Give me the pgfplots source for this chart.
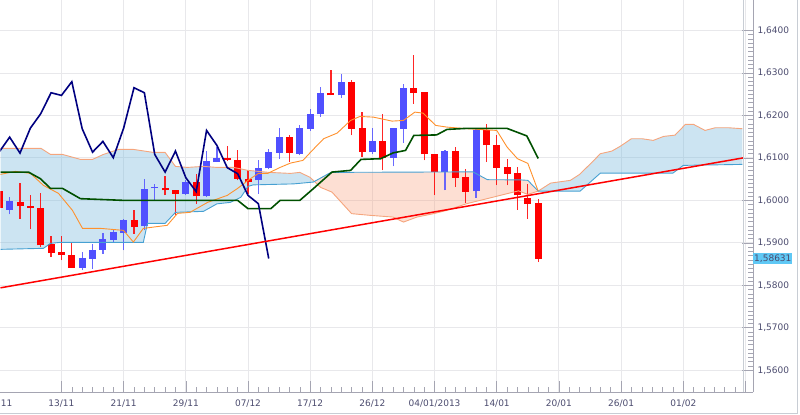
\documentclass[border=0pt]{standalone}
\usepackage{pgfplots}
\pgfplotsset{compat=1.18}
\usepackage{pgfplotstable}
\usepgfplotslibrary{fillbetween}
\usepackage{fontspec}
\setmainfont{DejaVu Sans}

\definecolor{gridc}{RGB}{232,232,235}
\definecolor{tickc}{RGB}{165,165,178}
\definecolor{labelc}{RGB}{75,75,110}
\definecolor{bullc}{RGB}{80,80,255}
\definecolor{bearc}{RGB}{255,0,0}
\definecolor{cloudb}{RGB}{120,185,220}
\definecolor{clouds}{RGB}{250,150,110}
\definecolor{spanAc}{RGB}{245,165,125}
\definecolor{spanBc}{RGB}{70,160,210}
\definecolor{tenkanc}{RGB}{255,145,45}
\definecolor{kijunc}{RGB}{0,80,0}
\definecolor{chikouc}{RGB}{0,0,128}
\definecolor{hlc}{RGB}{95,200,245}
\definecolor{framec}{RGB}{200,205,212}

% bullish candles: index open high low close
\pgfplotstableread{
i O H L C
-5 1.59781 1.60071 1.59671 1.59984
2 1.58416 1.58784 1.58353 1.58652
3 1.58628 1.58981 1.58393 1.58840
4 1.58840 1.59231 1.58746 1.59089
5 1.59075 1.59334 1.59019 1.59254
6 1.59231 1.59569 1.58824 1.59529
8 1.59388 1.60511 1.59294 1.60275
9 1.60282 1.60393 1.60016 1.60306
12 1.60158 1.60471 1.60118 1.60431
14 1.60094 1.61160 1.60078 1.60918
15 1.60901 1.61254 1.60901 1.61005
19 1.60471 1.60958 1.60158 1.60765
20 1.60753 1.61216 1.60729 1.61141
21 1.61113 1.61711 1.60981 1.61489
23 1.61099 1.61765 1.61059 1.61701
24 1.61687 1.62158 1.61631 1.62040
25 1.62024 1.62666 1.61960 1.62534
27 1.62471 1.62965 1.62416 1.62793
30 1.61136 1.61711 1.61099 1.61388
32 1.61005 1.61711 1.60800 1.61701
33 1.61687 1.62746 1.61348 1.62652
37 1.60666 1.61193 1.60235 1.61160
40 1.60212 1.61687 1.60064 1.61647
}\bull

% bearish candles: index open high low close
\pgfplotstableread{
i O H L C
-6 1.60219 1.60329 1.59718 1.59812
-4 1.59969 1.60407 1.59569 1.59859
-3 1.59871 1.60118 1.59318 1.59824
-2 1.59828 1.60181 1.58901 1.58941
-1 1.58965 1.59153 1.58666 1.58760
0 1.58776 1.59153 1.58588 1.58713
1 1.58713 1.58995 1.58416 1.58416
7 1.59529 1.59765 1.59216 1.59372
10 1.60299 1.60565 1.60118 1.60235
11 1.60235 1.60235 1.59647 1.60158
13 1.60431 1.60628 1.59922 1.60094
16 1.61005 1.61271 1.60925 1.60941
17 1.60958 1.61176 1.60471 1.60511
18 1.60511 1.60706 1.60141 1.60424
22 1.61499 1.61529 1.60901 1.61113
26 1.62534 1.63059 1.62471 1.62471
28 1.62793 1.62824 1.61529 1.61687
29 1.61711 1.62078 1.61019 1.61136
31 1.61388 1.62024 1.60706 1.61005
34 1.62642 1.63412 1.62275 1.62534
35 1.62548 1.62548 1.60941 1.61082
36 1.61099 1.61099 1.60118 1.60666
38 1.61160 1.61254 1.60313 1.60534
39 1.60548 1.60746 1.59941 1.60205
41 1.61647 1.61788 1.60901 1.61294
42 1.61311 1.61529 1.60353 1.60769
43 1.60784 1.60981 1.60353 1.60628
44 1.60642 1.60784 1.59781 1.60118
45 1.60064 1.60393 1.59569 1.59922
46 1.59936 1.60040 1.58548 1.58631
}\bear

% Senkou span A
\pgfplotstableread{
i v
-5.88 1.61224
-1.97 1.61224
-1.06 1.61082
0.1 1.61082
1.83 1.60965
3.0 1.60965
4.05 1.61082
5.5 1.61200
6.94 1.61200
8.87 1.61129
10.0 1.61129
11.0 1.60800
12.15 1.60776
13.7 1.60800
15.0 1.60776
16.6 1.60776
18.0 1.60706
20.0 1.60659
22.1 1.60635
23.0 1.60659
24.0 1.60541
25.0 1.60306
26.1 1.60195
28.0 1.59687
29.8 1.59647
32.0 1.59607
33.0 1.59489
34.3 1.59607
35.9 1.59687
37.2 1.59765
39.1 1.59922
41.7 1.60078
43.0 1.60158
44.1 1.60224
45.0 1.60141
46.0 1.60219
47.2 1.60407
49.1 1.60471
50.0 1.60612
51.2 1.60901
52.0 1.61099
53.1 1.61160
53.9 1.61271
55.0 1.61452
56.0 1.61452
57.1 1.61412
58.1 1.61506
59.2 1.61536
60.2 1.61788
61.0 1.61788
62.1 1.61647
63.1 1.61711
64.3 1.61711
65.7 1.61687
}\spanA

% Senkou span B
\pgfplotstableread{
i v
-5.88 1.58847
-1.74 1.58871
-1.06 1.58988
-0.1 1.59012
7.9 1.59012
8.3 1.59459
10.0 1.59459
11.0 1.59718
13.7 1.59741
15.0 1.59918
16.3 1.59953
17.3 1.60071
18.0 1.60329
18.5 1.60365
22.4 1.60388
24.3 1.60431
26.0 1.60659
39.7 1.60671
41.1 1.60487
44.3 1.60482
45.0 1.60471
46.0 1.60219
50.05 1.60219
52.0 1.60642
59.0 1.60642
60.0 1.60824
65.7 1.60847
}\spanB

% Tenkan-sen
\pgfplotstableread{
i v
-5.88 1.60612
-4.44 1.60682
-2.99 1.60635
-1.74 1.60353
-0.29 1.60165
1.06 1.59765
2.03 1.59341
3.76 1.59341
5.98 1.59294
6.94 1.59019
7.9 1.59341
10.2 1.59412
11.2 1.59694
12.4 1.59718
14.1 1.59953
16.0 1.60118
17.0 1.60282
18.0 1.60471
19.0 1.60635
19.9 1.60635
21.1 1.60776
22.1 1.60878
23.3 1.60941
24.2 1.61176
25.3 1.61452
26.6 1.61584
27.9 1.61882
28.8 1.61976
30.1 1.61960
31.9 1.61866
33.0 1.61882
34.1 1.62078
34.9 1.62054
36.1 1.61765
37.2 1.61725
39.1 1.61687
42.0 1.61647
43.0 1.61254
44.0 1.60981
45.0 1.60871
46.0 1.60219
}\tenkan

% Kijun-sen
\pgfplotstableread{
i v
-5.88 1.60666
-3.18 1.60666
-2.03 1.60510
-1.06 1.60282
0.1 1.60282
1.83 1.60040
6.0 1.60000
17.0 1.60000
18.0 1.59805
20.2 1.59805
21.1 1.60000
23.0 1.60000
24.3 1.60275
26.1 1.60666
27.9 1.60706
28.9 1.60965
30.8 1.60981
32.0 1.61118
33.2 1.61176
34.0 1.61529
36.2 1.61541
37.2 1.61671
39.0 1.61694
43.0 1.61694
44.9 1.61518
46.0 1.60988
}\kijun

% Chikou span
\pgfplotstableread{
i v
-6 1.61141
-5 1.61489
-4 1.61113
-3 1.61701
-2 1.62040
-1 1.62534
0 1.62471
1 1.62793
2 1.61687
3 1.61136
4 1.61388
5 1.61005
6 1.61701
7 1.62652
8 1.62534
9 1.61082
10 1.60666
11 1.61160
12 1.60534
13 1.60205
14 1.61647
15 1.61294
16 1.60769
17 1.60628
18 1.60118
19 1.59922
20 1.58631
}\chikou

\begin{document}
\begin{tikzpicture}
\begin{axis}[
  at={(0pt,0pt)}, anchor=south west,
  scale only axis, width=753pt, height=392pt,
  xmin=-5.882, xmax=66.73, ymin=1.554824, ymax=1.647059,
  axis x line*=bottom, axis y line*=right,
  axis line style={-, draw=tickc},
  xtick={0,6,...,66},
  xticklabels={13/11,21/11,29/11,07/12,17/12,26/12,04/01/2013,14/01,20/01,26/01,01/02,},
  extra x ticks={-5.3}, extra x tick labels={11},
  extra x tick style={major tick length=0pt, grid=none},
  minor x tick num=5,
  ytick={1.56,1.57,1.58,1.59,1.60,1.61,1.62,1.63,1.64},
  yticklabels={{1,5600},{1,5700},{1,5800},{1,5900},{1,6000},{1,6100},{1,6200},{1,6300},{1,6400}},
  minor y tick num=9,
  tick align=inside,
  major tick length=11pt, minor tick length=5pt,
  tick style={draw=tickc, line width=0.6pt},
  grid=major, major grid style={draw=gridc, line width=0.9pt},
  tick label style={font=\fontsize{9pt}{10pt}\selectfont, text=labelc},
  yticklabel style={anchor=west, xshift=1pt},
  xticklabel style={yshift=-4pt},
]
% wicks
\addplot[draw=none, forget plot, error bars/.cd, y dir=plus, y explicit, error mark=none,
  error bar style={draw=bullc, line width=1.2pt, draw opacity=0.85}]
  table[x=i, y=L, y error plus expr=\thisrow{H}-\thisrow{L}] {\bull};
\addplot[draw=none, forget plot, error bars/.cd, y dir=plus, y explicit, error mark=none,
  error bar style={draw=bearc, line width=1.2pt, draw opacity=0.85}]
  table[x=i, y=L, y error plus expr=\thisrow{H}-\thisrow{L}] {\bear};
% bodies
\addplot[draw=none, forget plot, error bars/.cd, y dir=plus, y explicit, error mark=none,
  error bar style={draw=bullc, line width=7pt}]
  table[x=i, y=O, y error plus expr=\thisrow{C}-\thisrow{O}] {\bull};
\addplot[draw=none, forget plot, error bars/.cd, y dir=plus, y explicit, error mark=none,
  error bar style={draw=bearc, line width=7pt}]
  table[x=i, y=C, y error plus expr=\thisrow{O}-\thisrow{C}] {\bear};
% cloud
\addplot[draw=none, name path=A, forget plot] table[x=i, y=v] {\spanA};
\addplot[draw=none, name path=B, forget plot] table[x=i, y=v] {\spanB};
\addplot[fill=cloudb, fill opacity=0.38, draw=none, forget plot]
  fill between[of=A and B, soft clip={domain=-7:24.35}];
\addplot[fill=clouds, fill opacity=0.30, draw=none, forget plot]
  fill between[of=A and B, soft clip={domain=24.35:46}];
\addplot[fill=cloudb, fill opacity=0.38, draw=none, forget plot]
  fill between[of=A and B, soft clip={domain=46:70}];
\addplot[spanAc, line width=0.9pt, forget plot] table[x=i, y=v] {\spanA};
\addplot[spanBc, line width=0.9pt, forget plot] table[x=i, y=v] {\spanB};
% lines
\addplot[tenkanc, line width=0.9pt, forget plot] table[x=i, y=v] {\tenkan};
\addplot[kijunc, line width=1.6pt, forget plot] table[x=i, y=v] {\kijun};
\addplot[chikouc, line width=1.6pt, forget plot] table[x=i, y=v] {\chikou};
\addplot[bearc, line width=1.5pt, forget plot] coordinates {(-5.882,1.57941) (65.77,1.61000)};
\draw[draw=framec, line width=0.8pt] (axis cs:65.77,1.554824) -- (axis cs:65.77,1.647059);
\coordinate (hl) at (axis cs:66.73,1.58631);
\end{axis}
\node[fill=hlc, text=labelc, font=\fontsize{9pt}{10pt}\selectfont, anchor=west, inner xsep=1pt, inner ysep=2pt] at (hl) {1,58631};
\pgfresetboundingbox
\path (0pt,-22pt) rectangle (800pt,392pt);
\draw[framec, line width=1pt] (0pt,-21.5pt) -- (797.5pt,-21.5pt) -- (797.5pt,392pt);
\end{tikzpicture}
\end{document}
